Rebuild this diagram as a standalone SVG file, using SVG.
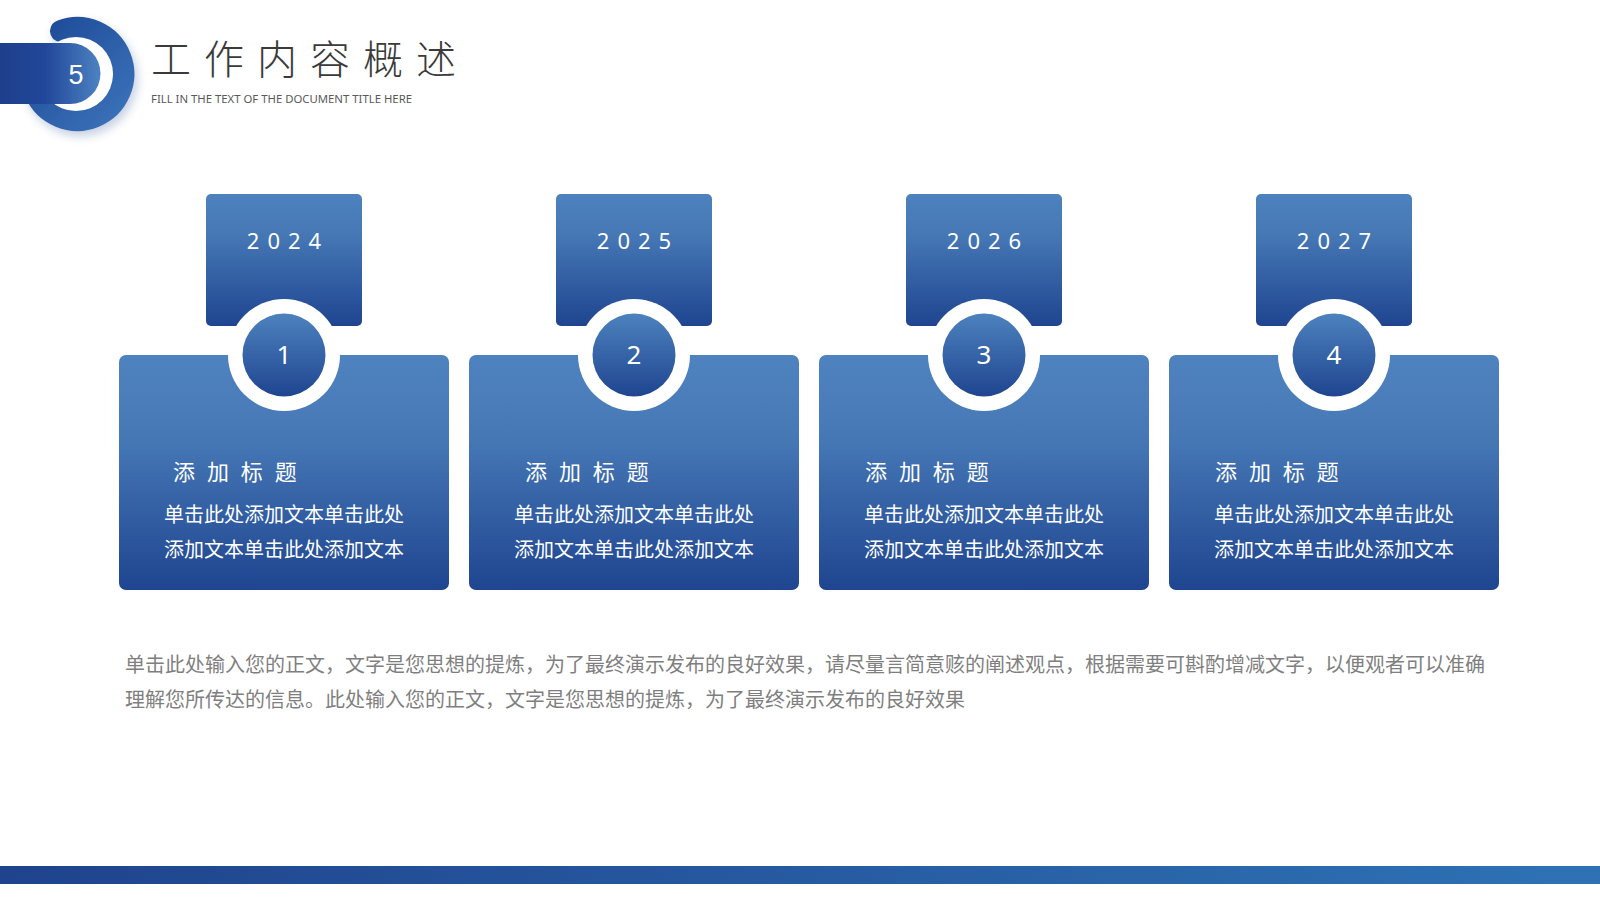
<svg xmlns="http://www.w3.org/2000/svg" width="1600" height="900" viewBox="0 0 1600 900">
<style>
.cjk{font-family:"Noto Sans CJK SC","Noto Sans",sans-serif}
.lat{font-family:"Noto Sans","Open Sans","Liberation Sans",sans-serif}
.year{font-size:22px;fill:#ffffff;letter-spacing:8px;text-anchor:middle}
.num{font-size:26px;fill:#ffffff;text-anchor:middle}
.ttl{font-size:22px;fill:#ffffff;letter-spacing:3.5px}
.body{font-size:20px;fill:#ffffff;text-anchor:middle}
.para{font-size:20px;fill:#7f7f7f}
</style>
<defs>
<linearGradient id="gCard" x1="0" y1="0" x2="0" y2="1">
<stop offset="0" stop-color="#4f83bf"/>
<stop offset="0.35" stop-color="#4678b6"/>
<stop offset="1" stop-color="#1f4590"/>
</linearGradient>
<linearGradient id="gBox" x1="0" y1="0" x2="0" y2="1">
<stop offset="0" stop-color="#4d82be"/>
<stop offset="0.3" stop-color="#4678b6"/>
<stop offset="1" stop-color="#1f4590"/>
</linearGradient>
<linearGradient id="gCirc" x1="0" y1="0" x2="0" y2="1">
<stop offset="0" stop-color="#4d82be"/>
<stop offset="1" stop-color="#1f4590"/>
</linearGradient>
<linearGradient id="gBar" x1="0" y1="0" x2="1" y2="0">
<stop offset="0" stop-color="#1f438d"/>
<stop offset="1" stop-color="#2e72b5"/>
</linearGradient>
<linearGradient id="gHead" x1="0" y1="0" x2="100" y2="0" gradientUnits="userSpaceOnUse">
<stop offset="0" stop-color="#1e3f8b"/>
<stop offset="0.45" stop-color="#21479a"/>
<stop offset="1" stop-color="#4c82c1"/>
</linearGradient>
<linearGradient id="gArc" x1="0" y1="0" x2="1" y2="1">
<stop offset="0" stop-color="#1f4a97"/>
<stop offset="1" stop-color="#3a72b9"/>
</linearGradient>
<filter id="sh" x="-30%" y="-30%" width="160%" height="160%">
<feDropShadow dx="3" dy="5" stdDeviation="4" flood-color="#1f4590" flood-opacity="0.25"/>
</filter>
</defs>
<rect width="1600" height="900" fill="#ffffff"/>

<g id="header">
<path d="M 61 31 A 46 46 0 1 1 35 92" fill="none" stroke="url(#gArc)" stroke-width="22" stroke-linecap="round" filter="url(#sh)"/>
<circle cx="76" cy="74" r="37" fill="#ffffff"/>
<path d="M 0 43 H 70 A 30.5 30.5 0 0 1 70 104 H 0 Z" fill="url(#gHead)"/>
<text x="76" y="84" font-family="'Liberation Sans',Arial,sans-serif" font-size="27" fill="#ffffff" text-anchor="middle">5</text>
<text x="151" y="74" class="cjk" font-size="40" font-weight="300" fill="#3a3a3a" letter-spacing="13">工作内容概述</text>
<text x="151" y="103" class="lat" font-size="11" fill="#595959" textLength="261" lengthAdjust="spacingAndGlyphs">FILL IN THE TEXT OF THE DOCUMENT TITLE HERE</text>
</g>

<g id="node1">
<rect x="206" y="194" width="156" height="132" rx="5" fill="url(#gBox)"/>
<rect x="119" y="355" width="330" height="235" rx="7" fill="url(#gCard)"/>
<circle cx="284" cy="355" r="56" fill="#ffffff"/>
<circle cx="284" cy="355" r="41.5" fill="url(#gCirc)"/>
<text x="288" y="249" class="lat year">2024</text>
<text x="284" y="364" class="lat num">1</text>
<text x="173" y="480" class="cjk ttl">添 加 标 题</text>
<text x="284" y="522" class="cjk body">单击此处添加文本单击此处</text>
<text x="284" y="557" class="cjk body">添加文本单击此处添加文本</text>
</g>

<g id="node2">
<rect x="556" y="194" width="156" height="132" rx="5" fill="url(#gBox)"/>
<rect x="469" y="355" width="330" height="235" rx="7" fill="url(#gCard)"/>
<circle cx="634" cy="355" r="56" fill="#ffffff"/>
<circle cx="634" cy="355" r="41.5" fill="url(#gCirc)"/>
<text x="638" y="249" class="lat year">2025</text>
<text x="634" y="364" class="lat num">2</text>
<text x="525" y="480" class="cjk ttl">添 加 标 题</text>
<text x="634" y="522" class="cjk body">单击此处添加文本单击此处</text>
<text x="634" y="557" class="cjk body">添加文本单击此处添加文本</text>
</g>

<g id="node3">
<rect x="906" y="194" width="156" height="132" rx="5" fill="url(#gBox)"/>
<rect x="819" y="355" width="330" height="235" rx="7" fill="url(#gCard)"/>
<circle cx="984" cy="355" r="56" fill="#ffffff"/>
<circle cx="984" cy="355" r="41.5" fill="url(#gCirc)"/>
<text x="988" y="249" class="lat year">2026</text>
<text x="984" y="364" class="lat num">3</text>
<text x="865" y="480" class="cjk ttl">添 加 标 题</text>
<text x="984" y="522" class="cjk body">单击此处添加文本单击此处</text>
<text x="984" y="557" class="cjk body">添加文本单击此处添加文本</text>
</g>

<g id="node4">
<rect x="1256" y="194" width="156" height="132" rx="5" fill="url(#gBox)"/>
<rect x="1169" y="355" width="330" height="235" rx="7" fill="url(#gCard)"/>
<circle cx="1334" cy="355" r="56" fill="#ffffff"/>
<circle cx="1334" cy="355" r="41.5" fill="url(#gCirc)"/>
<text x="1338" y="249" class="lat year">2027</text>
<text x="1334" y="364" class="lat num">4</text>
<text x="1215" y="480" class="cjk ttl">添 加 标 题</text>
<text x="1334" y="522" class="cjk body">单击此处添加文本单击此处</text>
<text x="1334" y="557" class="cjk body">添加文本单击此处添加文本</text>
</g>

<g id="connectors"></g>

<g id="paragraph">
<text x="125" y="672" class="cjk para" textLength="1360" lengthAdjust="spacing">单击此处输入您的正文，文字是您思想的提炼，为了最终演示发布的良好效果，请尽量言简意赅的阐述观点，根据需要可斟酌增减文字，以便观者可以准确</text>
<text x="125" y="707" class="cjk para" textLength="840" lengthAdjust="spacing">理解您所传达的信息。此处输入您的正文，文字是您思想的提炼，为了最终演示发布的良好效果</text>
</g>

<rect id="footer-bar" x="0" y="866" width="1600" height="18" fill="url(#gBar)"/>
</svg>
